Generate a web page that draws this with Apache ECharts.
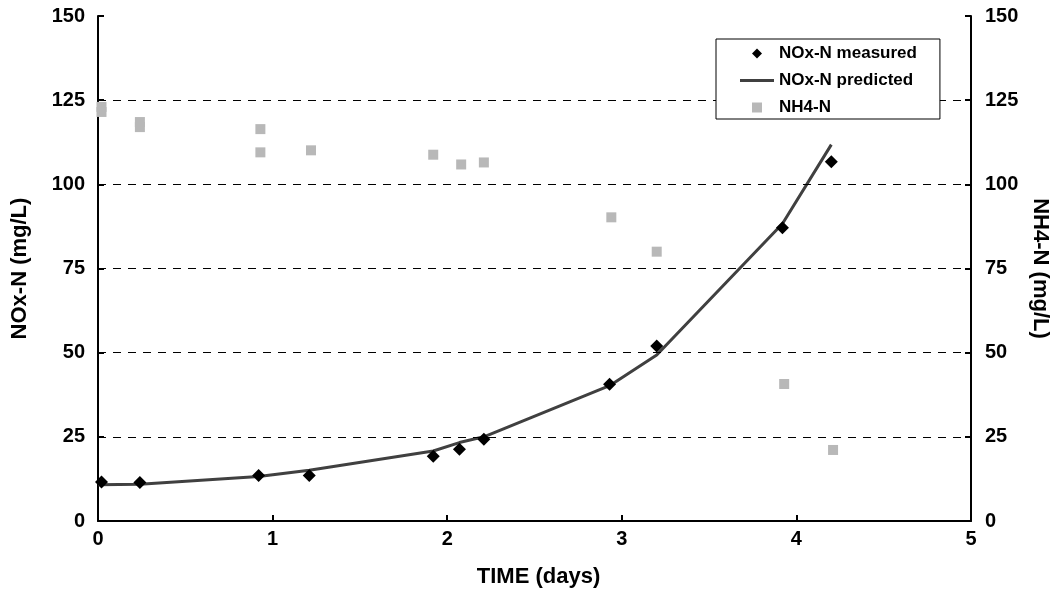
<!DOCTYPE html>
<html><head><meta charset="utf-8">
<script src="https://cdn.jsdelivr.net/npm/echarts@6/dist/echarts.min.js"></script>
<style>html,body{margin:0;padding:0;background:#fff}#c{width:1060px;height:597px}</style>
</head><body><div id="c"></div>
<script>
// NOx-N measured (days, mg/L)
const noxMeasuredX = [0.02, 0.24, 0.92, 1.21, 1.92, 2.07, 2.21, 2.93, 3.20, 3.92, 4.20];
const noxMeasuredY = [11.6, 11.4, 13.5, 13.5, 19.2, 21.3, 24.3, 40.6, 52.0, 87.1, 106.7];
// NOx-N predicted
const noxPredX = [0, 0.24, 0.92, 1.21, 1.92, 2.07, 2.21, 2.93, 3.20, 3.92, 4.20];
const noxPredY = [10.8, 10.9, 13.2, 15.1, 20.8, 23.3, 25.0, 40.2, 49.3, 88.3, 111.8];
// NH4-N measured
const nh4X = [0.02, 0.02, 0.24, 0.24, 0.93, 0.93, 1.22, 1.92, 2.08, 2.21, 2.94, 3.20, 3.93, 4.21];
const nh4Y = [123.0, 121.5, 118.5, 117.0, 116.4, 109.5, 110.1, 108.8, 105.9, 106.5, 90.2, 80.0, 40.7, 21.1];
const xTicks = [0, 1, 2, 3, 4, 5];
const yTicks = [0, 25, 50, 75, 100, 125, 150];

const zip = (a, b) => a.map((v, i) => [v, b[i]]);
const FONT = 'Arial, "Liberation Sans", sans-serif';
const tickLbl = {fontFamily: FONT, fontWeight: 'bold', fontSize: 20, color: '#000'};
const titleLbl = {fontFamily: FONT, fontWeight: 'bold', fontSize: 22, color: '#000'};
const gridVals = yTicks.filter(v => v > yTicks[0] && v < yTicks[yTicks.length - 1]);

const chart = echarts.init(document.getElementById('c'), null, {renderer: 'canvas'});
chart.setOption({
  animation: false,
  backgroundColor: '#fff',
  grid: {left: 98, right: 89, top: 16, bottom: 76, containLabel: false},
  xAxis: {
    type: 'value', min: xTicks[0], max: xTicks[xTicks.length - 1], interval: 1,
    name: 'TIME (days)', nameLocation: 'middle', nameGap: 45,
    nameTextStyle: Object.assign({}, titleLbl, {padding: [0, 0, 0, 8]}),
    axisLine: {show: true, onZero: false, lineStyle: {color: '#000', width: 2}},
    axisTick: {show: true, inside: true, length: 6, lineStyle: {color: '#000', width: 2}},
    axisLabel: Object.assign({}, tickLbl, {margin: 8}),
    splitLine: {show: false}
  },
  yAxis: [{
    type: 'value', min: yTicks[0], max: yTicks[yTicks.length - 1], interval: 25,
    name: 'NOx-N (mg/L)', nameLocation: 'middle', nameGap: 67, nameRotate: 90,
    nameTextStyle: titleLbl,
    axisLine: {show: true, lineStyle: {color: '#000', width: 2}},
    axisTick: {show: true, inside: true, length: 6, lineStyle: {color: '#000', width: 2}},
    axisLabel: Object.assign({}, tickLbl, {margin: 13}),
    splitLine: {show: false}
  }, {
    type: 'value', min: yTicks[0], max: yTicks[yTicks.length - 1], interval: 25, position: 'right',
    name: 'NH4-N (mg/L)', nameLocation: 'middle', nameGap: 58, nameRotate: -90,
    nameTextStyle: titleLbl,
    axisLine: {show: true, lineStyle: {color: '#000', width: 2}},
    axisTick: {show: true, inside: true, length: 6, lineStyle: {color: '#000', width: 2}},
    axisLabel: Object.assign({}, tickLbl, {margin: 14}),
    splitLine: {show: false}
  }],
  legend: {
    orient: 'vertical', left: 716, top: 39, z: 20, zlevel: 1,
    backgroundColor: '#fff', borderColor: '#000', borderWidth: 1,
    padding: [6, 23, 3, 24],
    itemWidth: 34, itemHeight: 10, itemGap: 10,
    symbolKeepAspect: true,
    textStyle: {fontFamily: FONT, fontWeight: 'bold', fontSize: 17, color: '#000'},
    data: [
      {name: 'NOx-N measured', icon: 'path://M5,0 L10,5 L5,10 L0,5 Z', itemStyle: {color: '#000'}},
      {name: 'NOx-N predicted', icon: 'path://M0,0 L34,0 L34,3 L0,3 Z', itemStyle: {color: '#404040'}},
      {name: 'NH4-N', icon: 'path://M0,0 L9,0 L9,9 L0,9 Z', itemStyle: {color: '#b8b8b8'}}
    ]
  },
  series: [{
    name: 'grid', type: 'line', data: [], z: 0, silent: true,
    markLine: {
      silent: true, symbol: ['none', 'none'], animation: false,
      label: {show: false},
      lineStyle: {color: '#000', width: 1, type: [8, 7]},
      data: gridVals.map(v => ({yAxis: v}))
    }
  }, {
    name: 'NOx-N predicted', type: 'line', yAxisIndex: 0,
    data: zip(noxPredX, noxPredY), symbol: 'none', smooth: false,
    lineStyle: {color: '#404040', width: 3}, itemStyle: {color: '#404040'}, z: 2
  }, {
    name: 'NH4-N', type: 'scatter', yAxisIndex: 1,
    data: zip(nh4X, nh4Y), symbol: 'rect', symbolSize: 10,
    itemStyle: {color: '#b8b8b8', opacity: 1}, z: 1
  }, {
    name: 'NOx-N measured', type: 'scatter', yAxisIndex: 0,
    data: zip(noxMeasuredX, noxMeasuredY), symbol: 'diamond', symbolSize: 13,
    itemStyle: {color: '#000', opacity: 1}, z: 3
  }]
});
</script></body></html>
